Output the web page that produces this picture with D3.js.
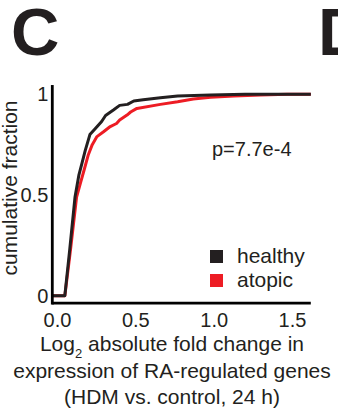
<!DOCTYPE html>
<html>
<head>
<meta charset="utf-8">
<script src="https://cdn.jsdelivr.net/npm/d3@7"></script>
<style>
  html, body { margin: 0; padding: 0; background: #fff; }
  svg { display: block; }
  text { font-family: "Liberation Sans", Arial, Helvetica, sans-serif; fill: #231f20; }
</style>
</head>
<body>
<svg id="chart" width="338" height="410"></svg>
<script>
// ---- data ----
const healthyX = [-0.03, 0.05, 0.08, 0.115, 0.14, 0.16, 0.18, 0.21, 0.245, 0.285, 0.31, 0.36, 0.40, 0.45, 0.49, 0.55, 0.66, 0.77, 0.98, 1.2, 1.62];
const healthyY = [0, 0, 0.22, 0.49, 0.60, 0.66, 0.72, 0.80, 0.83, 0.865, 0.895, 0.922, 0.945, 0.95, 0.967, 0.973, 0.983, 0.991, 0.996, 1, 1];
const atopicX = [-0.03, 0.05, 0.085, 0.125, 0.15, 0.173, 0.20, 0.225, 0.255, 0.297, 0.34, 0.38, 0.40, 0.447, 0.47, 0.51, 0.66, 0.77, 0.87, 0.98, 1.13, 1.30, 1.47, 1.62];
const atopicY = [0, 0, 0.22, 0.49, 0.56, 0.624, 0.70, 0.75, 0.79, 0.814, 0.84, 0.855, 0.872, 0.897, 0.912, 0.93, 0.95, 0.963, 0.977, 0.985, 0.991, 0.996, 1, 1];
const xTicks = [0, 0.5, 1.0, 1.5];
const xTickLabels = ["0.0", "0.5", "1.0", "1.5"];
const yTicks = [0, 0.5, 1];
const yTickLabels = ["0", "0.5", "1"];
const seriesNames = ["healthy", "atopic"];
const seriesColors = ["#231f20", "#ed1c24"];
const pText = "p=7.7e-4";

// ---- drawing ----
const svg = d3.select("#chart");
const x = d3.scaleLinear().domain([0, 1.5]).range([57, 292]);
const y = d3.scaleLinear().domain([0, 1]).range([295.7, 94.3]);

// panel letters
svg.append("text").attr("x", 11).attr("y", 55)
  .style("font-size", "67px").style("font-weight", "bold").text("C");
svg.append("text").attr("x", 318).attr("y", 55)
  .style("font-size", "67px").style("font-weight", "bold").text("D");

// curves
const line = d3.line().x(d => x(d[0])).y(d => y(d[1]));
const series = [
  d3.zip(atopicX, atopicY),
  d3.zip(healthyX, healthyY)
];
const colorsDrawn = [seriesColors[1], seriesColors[0]];
series.forEach((s, i) => {
  svg.append("path").datum(s)
    .attr("d", line)
    .attr("fill", "none")
    .attr("stroke", colorsDrawn[i])
    .attr("stroke-width", 3)
    .attr("stroke-linejoin", "round");
});

// axis lines
const axisColor = "#000";
const xAxisY = y(-0.037);
svg.append("line")
  .attr("x1", x(-0.03)).attr("x2", x(1.62))
  .attr("y1", xAxisY).attr("y2", xAxisY)
  .attr("stroke", axisColor).attr("stroke-width", 2.8);
svg.append("line")
  .attr("x1", x(-0.03)).attr("x2", x(-0.03))
  .attr("y1", y(1.046)).attr("y2", xAxisY + 1.4)
  .attr("stroke", axisColor).attr("stroke-width", 2.8);

// tick labels via d3 axes
const xAxis = d3.axisBottom(x).tickValues(xTicks)
  .tickFormat((d, i) => xTickLabels[i]).tickSize(0).tickPadding(10);
const gx = svg.append("g").attr("transform", `translate(0,${xAxisY})`).call(xAxis);
gx.select(".domain").remove();
gx.selectAll("text").style("font-size", "20px").attr("fill", "#231f20")
  .style("font-family", '"Liberation Sans", Arial, sans-serif');

const yAxis = d3.axisLeft(y).tickValues(yTicks)
  .tickFormat((d, i) => yTickLabels[i]).tickSize(0).tickPadding(4);
const gy = svg.append("g").attr("transform", `translate(${x(-0.03)},0)`).call(yAxis);
gy.select(".domain").remove();
gy.selectAll("text").style("font-size", "20px").attr("fill", "#231f20")
  .style("font-family", '"Liberation Sans", Arial, sans-serif');

// y title
svg.append("text")
  .attr("transform", "translate(17,188) rotate(-90)")
  .attr("text-anchor", "middle")
  .style("font-size", "21px")
  .text("cumulative fraction");

// x title
const xt = svg.append("text").attr("text-anchor", "middle").style("font-size", "21px");
const l1 = xt.append("tspan").attr("x", 172).attr("y", 351);
l1.append("tspan").text("Log");
l1.append("tspan").attr("dy", 7).style("font-size", "13px").text("2");
l1.append("tspan").attr("dy", -7).text(" absolute fold change in");
xt.append("tspan").attr("x", 172).attr("y", 377.5).text("expression of RA-regulated genes");
xt.append("tspan").attr("x", 172).attr("y", 404).text("(HDM vs. control, 24 h)");

// p value
svg.append("text").attr("x", 212).attr("y", 156).style("font-size", "20px").text(pText);

// legend
seriesNames.forEach((name, i) => {
  const top = 250 + i * 24;
  svg.append("rect").attr("x", 210).attr("y", top).attr("width", 13).attr("height", 13)
    .attr("fill", seriesColors[i]);
  svg.append("text").attr("x", 237).attr("y", top + 13).style("font-size", "21px").text(name);
});
</script>
</body>
</html>
